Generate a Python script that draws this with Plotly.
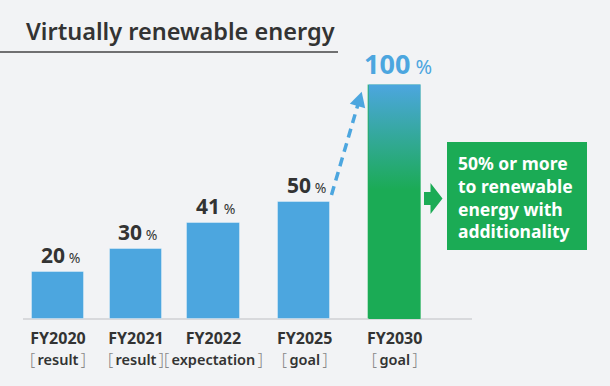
import plotly.graph_objects as go
import math

# ---- data ----
years = ["FY2020", "FY2021", "FY2022", "FY2025", "FY2030"]
kinds = ["result", "result", "expectation", "goal", "goal"]
values = [20, 30, 41, 50, 100]
slots = [0, 1, 2, 3.164, 4.328]          # category slot positions (uneven gaps in the original)
note_lines = ["50% or more", "to renewable", "energy with", "additionality"]
title_text = "Virtually renewable energy"

# ---- style ----
W, H = 610, 386
BG = "#f2f3f5"
BLUE = "#4ca6df"
GREEN = "#1bab55"
DARK = "#333333"
FONT = "Noto Sans"
BAR_W = 0.669

def xp(px):
    return px / W

def yp(py):
    return 1 - py / H

fig = go.Figure()

bar_colors = [BLUE] * (len(values) - 1) + [GREEN]
fig.add_trace(go.Bar(
    x=slots, y=values, width=BAR_W,
    marker=dict(color=bar_colors, line=dict(width=1, color="rgba(255,255,255,0.35)")),
    hoverinfo="skip", showlegend=False,
))

# gradient overlay on final bar
xc = slots[-1]
v = values[-1]
fig.add_trace(go.Scatter(
    x=[xc - BAR_W / 2, xc + BAR_W / 2, xc + BAR_W / 2, xc - BAR_W / 2, xc - BAR_W / 2],
    y=[0, 0, v, v, 0],
    mode="lines", line=dict(width=0), fill="toself",
    fillgradient=dict(type="vertical", start=0, stop=v,
                      colorscale=[[0, GREEN], [0.55, GREEN], [1, BLUE]]),
    hoverinfo="skip", showlegend=False,
))

annotations = []
# value labels
for i, (s, val) in enumerate(zip(slots, values)):
    if i < len(values) - 1:
        txt = f"<b>{val}</b><span style='font-size:14px'> %</span>"
        annotations.append(dict(x=s, y=val, xref="x", yref="y", text=txt, showarrow=False,
                                yanchor="middle", yshift=17, xshift=2,
                                font=dict(family=FONT, size=21, color=DARK)))
    else:
        txt = f"<b>{val}</b><span style='font-size:20px'> %</span>"
        annotations.append(dict(x=s, y=val, xref="x", yref="y", text=txt, showarrow=False,
                                yanchor="middle", yshift=21, xshift=3,
                                font=dict(family=FONT, size=27, color=BLUE)))

BR = "font-weight:300;font-size:16px;color:#888"
# category labels (two lines each)
for s, yr, k in zip(slots, years, kinds):
    txt = (f"<b>{yr}</b><br>"
           f"<span style='font-size:14.5px'><span style='{BR}'>[</span>\u2009{k}\u2009<span style='{BR}'>]</span></span>")
    annotations.append(dict(x=s, y=0, xref="x", yref="y", text=txt, showarrow=False,
                            yanchor="middle", yshift=-29,
                            font=dict(family=FONT, size=16, color=DARK, weight=600)))

# title
annotations.append(dict(x=xp(24), y=yp(31), xref="paper", yref="paper", text=title_text,
                        showarrow=False, xanchor="left", yanchor="middle",
                        font=dict(family=FONT, size=23.5, color=DARK, weight=600)))

# note box text
annotations.append(dict(x=xp(456), y=yp(197), xref="paper", yref="paper",
                        text="<br>".join(note_lines), showarrow=False,
                        xanchor="left", yanchor="middle", align="left",
                        font=dict(family=FONT, size=17.5, color="white", weight=700)))

shapes = []
# title underline
shapes.append(dict(type="line", xref="paper", yref="paper", x0=0, x1=xp(338), y0=yp(52), y1=yp(52),
                   line=dict(color="#444444", width=1.5)))
# baseline
shapes.append(dict(type="line", xref="paper", yref="y", x0=xp(23), x1=xp(472), y0=0, y1=0,
                   line=dict(color="#cfd0d3", width=1.5), layer="below"))
# note box
shapes.append(dict(type="rect", xref="paper", yref="paper", x0=xp(447), x1=xp(587), y0=yp(142), y1=yp(250),
                   fillcolor=GREEN, line=dict(width=0)))
# green arrow to box
ax0, ax1, ax2 = 424, 430.5, 442.5
ay = 198.5
path = (f"M {xp(ax0)},{yp(ay-6.5)} L {xp(ax1)},{yp(ay-6.5)} L {xp(ax1)},{yp(ay-15.5)} "
        f"L {xp(ax2)},{yp(ay)} L {xp(ax1)},{yp(ay+15.5)} L {xp(ax1)},{yp(ay+6.5)} L {xp(ax0)},{yp(ay+6.5)} Z")
shapes.append(dict(type="path", xref="paper", yref="paper", path=path, fillcolor=GREEN, line=dict(width=0)))

# dashed arrow
sx, sy = 331.5, 195.0
tx, ty = 361.7, 91.7
dx, dy = tx - sx, ty - sy
L = math.hypot(dx, dy)
ux, uy = dx / L, dy / L
hl, hw = 15, 8
bx, by = tx - ux * hl, ty - uy * hl
shapes.append(dict(type="line", xref="paper", yref="paper", x0=xp(sx), y0=yp(sy), x1=xp(bx + ux * 2), y1=yp(by + uy * 2),
                   line=dict(color=BLUE, width=3.5, dash="9px,6px")))
px_, py_ = -uy, ux
head = (f"M {xp(tx)},{yp(ty)} L {xp(bx + px_ * hw)},{yp(by + py_ * hw)} "
        f"L {xp(bx - px_ * hw)},{yp(by - py_ * hw)} Z")
shapes.append(dict(type="path", xref="paper", yref="paper", path=head, fillcolor=BLUE, line=dict(width=0)))

# axis mapping: x unit = 77.75px with slot 0 at px 58; y unit = 2.345px with 0 at px 319
XU, X0 = 77.75, 58
YU, Y0 = 2.345, 319
fig.update_layout(
    width=W, height=H, autosize=False,
    margin=dict(l=0, r=0, t=0, b=0),
    paper_bgcolor=BG, plot_bgcolor=BG,
    xaxis=dict(range=[-X0 / XU, (W - X0) / XU], visible=False, fixedrange=True),
    yaxis=dict(range=[-(H - Y0) / YU, Y0 / YU], visible=False, fixedrange=True),
    annotations=annotations, shapes=shapes,
    bargap=0, showlegend=False,
)

fig.write_html("out.html", config={"displayModeBar": False},
               post_script="document.body.style.margin='0';document.body.style.overflow='hidden';")
